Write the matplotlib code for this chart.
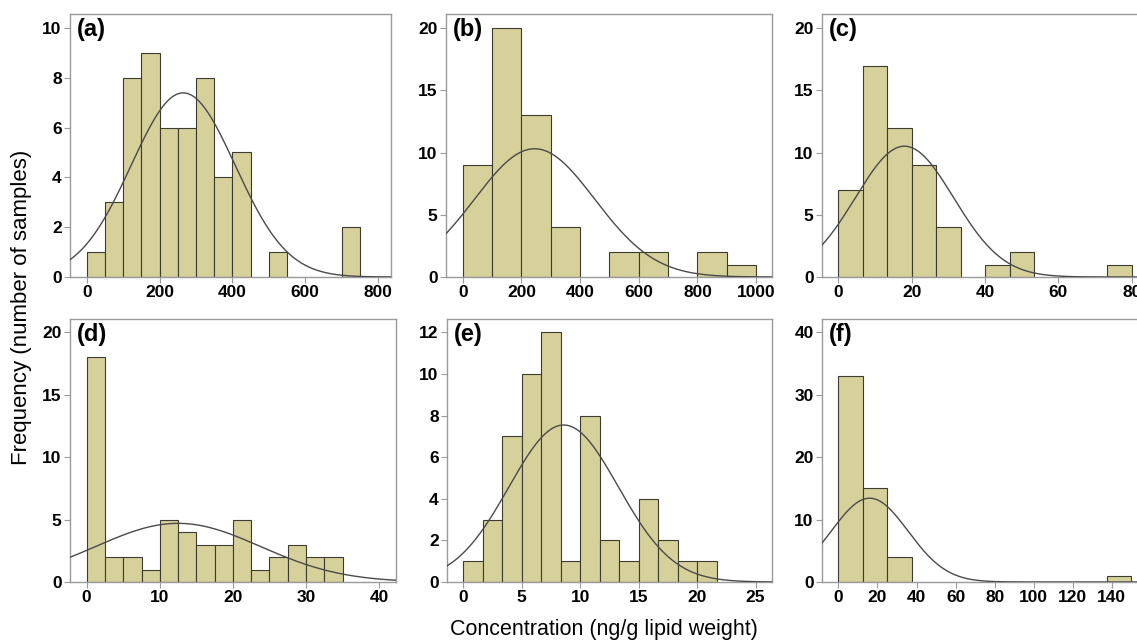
import numpy as np
import matplotlib
matplotlib.use("Agg")
import matplotlib.pyplot as plt

plt.rcParams["font.family"] = ["Liberation Sans", "DejaVu Sans"]

# histogram counts (bins start at 0)
counts_a = [1, 3, 8, 9, 6, 6, 8, 4, 5, 0, 1, 0, 0, 0, 2]
counts_b = [9, 20, 13, 4, 0, 2, 2, 0, 2, 1]
counts_c = [7, 17, 12, 9, 4, 0, 1, 2, 0, 0, 0, 1]
counts_d = [18, 2, 2, 1, 5, 4, 3, 3, 5, 1, 2, 3, 2, 2]
counts_e = [1, 3, 7, 10, 12, 1, 8, 2, 1, 4, 2, 1, 1]
counts_f = [33, 15, 4, 0, 0, 0, 0, 0, 0, 0, 0, 1]

bin_widths = [50, 100, 80 / 12, 2.5, 25 / 15, 12.5]

# fitted normal curves (mean, sd)
curve_means = [265, 245, 18, 12.5, 8.6, 16]
curve_sds = [143, 205, 13.4, 11.25, 4.67, 19.7]

panel_labels = ["(a)", "(b)", "(c)", "(d)", "(e)", "(f)"]
x_ticks = [
    [0, 200, 400, 600, 800],
    [0, 200, 400, 600, 800, 1000],
    [0, 20, 40, 60, 80],
    [0, 10, 20, 30, 40],
    [0, 5, 10, 15, 20, 25],
    [0, 20, 40, 60, 80, 100, 120, 140],
]
y_ticks = [
    [0, 2, 4, 6, 8, 10],
    [0, 5, 10, 15, 20],
    [0, 5, 10, 15, 20],
    [0, 5, 10, 15, 20],
    [0, 2, 4, 6, 8, 10, 12],
    [0, 10, 20, 30, 40],
]
x_lims = [(-46, 836), (-57, 1054), (-4.5, 83.6), (-2.28, 42.3), (-1.37, 26.4), (-8.4, 157)]
y_tops = [10.56, 21.15, 21.15, 21.07, 12.64, 42.1]

all_counts = [counts_a, counts_b, counts_c, counts_d, counts_e, counts_f]

W, H = 1137, 641
# axes boxes in pixels: left, top, right, bottom
boxes = [
    (70, 14, 391, 277),
    (446, 14, 772, 277),
    (822, 14, 1145, 277),
    (70, 319, 396, 582),
    (447, 319, 772, 582),
    (822, 319, 1145, 582),
]

BAR = "#d6d09a"
EDGE = "#3c3c30"
FRAME = "#9a9a9a"

fig = plt.figure(figsize=(W / 100, H / 100), dpi=100)

for i in range(6):
    l, t, r, b = boxes[i]
    ax = fig.add_axes([l / W, 1 - b / H, (r - l) / W, (b - t) / H])
    counts = all_counts[i]
    w = bin_widths[i]
    lefts = [k * w for k in range(len(counts))]
    keep = [k for k in range(len(counts)) if counts[k] > 0]
    ax.bar([lefts[k] for k in keep], [counts[k] for k in keep], width=w,
           align="edge", color=BAR, edgecolor=EDGE, linewidth=0.8, zorder=2)

    n = sum(counts)
    mu, sd = curve_means[i], curve_sds[i]
    xs = np.linspace(x_lims[i][0], x_lims[i][1], 400)
    ys = n * w * np.exp(-0.5 * ((xs - mu) / sd) ** 2) / (sd * np.sqrt(2 * np.pi))
    ax.plot(xs, ys, color="#4a4a4a", linewidth=1.0, zorder=3)

    ax.set_xlim(*x_lims[i])
    ax.set_ylim(0, y_tops[i])
    ax.set_xticks(x_ticks[i])
    ax.set_yticks(y_ticks[i])
    for s in ax.spines.values():
        s.set_color(FRAME)
        s.set_linewidth(1.0)
    ax.tick_params(direction="out", length=4, width=0.8, color=FRAME,
                   labelsize=12.5, pad=2)
    for lab in ax.get_xticklabels() + ax.get_yticklabels():
        lab.set_fontweight("bold")
    ax.text(0.022, 0.985, panel_labels[i], transform=ax.transAxes,
            fontsize=17, fontweight="bold", va="top", ha="left")

fig.text(22 / W, 1 - 307 / H, "Frequency (number of samples)", rotation=90,
         fontsize=16, ha="center", va="center")
fig.text(604 / W, 1 - 629 / H, "Concentration (ng/g lipid weight)",
         fontsize=15.5, ha="center", va="center")

fig.savefig("out.png", dpi=100)
